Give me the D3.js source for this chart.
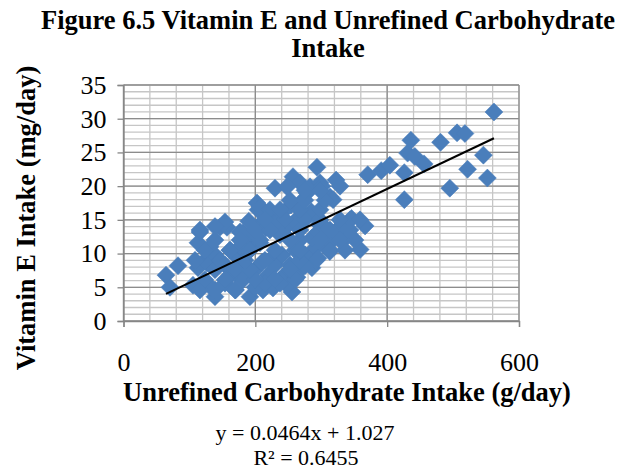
<!DOCTYPE html>
<html>
<head>
<meta charset="utf-8">
<script src="https://cdn.jsdelivr.net/npm/d3@7"></script>
<style>
  body { margin: 0; background: #fff; }
  svg text { font-family: "Liberation Serif", "Times New Roman", serif; fill: #000; }
</style>
</head>
<body>
<svg id="chart"></svg>
<script>
// unrefined carbohydrate intake (g/day)
const carbIntake = [
	64.5, 70.5, 82.7, 105.4, 113, 113, 116, 131.2, 126.7, 138.8, 146.4, 157, 132.7, 154, 169.2, 123.6,
	181.3, 187.3, 202.5, 204, 222.2, 254.1, 263.2, 202.5, 191.8, 181.3, 211.6, 226.8, 241.9, 267.7, 278.4, 287.5, 302.6, 313.3, 196.4, 237.4, 207.1, 226.8,
	293.5, 257.1, 267.7, 229.8, 248, 282.9, 298.1, 278.4, 267.7, 313.3, 207.1, 222.2, 204, 245, 298.1, 154, 138.8, 116, 176.7,
	301, 322.5, 328.5, 318, 346, 366.5, 339, 359, 313, 303, 298, 370.5, 391, 404, 426, 426, 431, 436, 442, 456, 481, 506, 518, 495, 522, 546, 552, 562,
	138.8, 154, 161.6, 173.7, 184.3, 191.8, 199.5, 210.1, 219.2, 229.8, 240.4, 252.6, 260.2, 267.7, 275.3, 285.9, 295, 305.7, 320.8, 331.5, 343.6,
	255.6, 248, 237.4, 263.2, 285.9, 292, 199.5, 170, 160, 176.7, 216, 230, 260, 275, 285, 240, 190,
	116, 138.8, 169.2, 214.6, 237.4, 123.6, 154, 199.5, 229.8, 260.2,
	138.8, 169.2, 191.8, 252.6, 275.3, 108.5, 146.4, 184.3, 214.6, 267.7, 295,
	123.6, 161.6, 191.8, 229.8, 267.7, 313.3, 336, 138.8, 176.7, 207.1, 252.6, 298.1, 328.4, 351.2,
	199.5, 222.2, 267.7, 313.3, 343.6, 214.6, 245, 275.3, 298.1, 328.4, 358.8,
	237.4, 267.7, 298.1, 252.6, 275.3, 305.7, 275.3, 298.1
];
// vitamin E intake (mg/day), same order
const vitaminE = [
	6.8, 5.0, 8.2, 5.3, 7.9, 11.6, 13.2, 11.0, 8.6, 3.6, 13.9, 13.9, 5.0, 5.6, 7.1, 9.0,
	13.1, 11.6, 13.5, 16.5, 16.0, 17.2, 16.9, 17.5, 3.6, 6.1, 4.6, 4.9, 6.6, 7.6, 8.6, 10.5, 11.6, 11.6, 13.1, 12.8, 11.6, 9.5,
	22.8, 21.4, 20.5, 19.7, 19.9, 19.9, 20.5, 19.0, 17.5, 18.4, 16.9, 16.5, 14.0, 13.8, 14.2, 14.7, 14.0, 13.5, 13.2,
	20.0, 20.9, 20.0, 18.0, 15.2, 14.1, 12.5, 10.6, 10.3, 13.0, 14.5, 21.7, 22.3, 23.1, 22.0, 18.0, 24.9, 26.8, 24.4, 23.3, 26.5, 27.9, 27.8, 19.7, 22.5, 24.6, 21.2, 31.0,
	9.8, 8.3, 10.5, 9.3, 8.3, 10.5, 7.6, 8.7, 6.8, 8.3, 9.8, 8.3, 10.5, 12.0, 9.8, 12.3, 13.2, 13.9, 13.2, 14.2, 15.0,
	4.3, 5.3, 6.1, 6.5, 7.9, 9.0, 5.0, 4.6, 6.5, 11.0, 13.8, 14.5, 14.8, 15.5, 16.2, 16.0, 14.8,
	4.6, 4.6, 4.6, 5.6, 5.6, 6.1, 6.1, 6.1, 6.1, 6.1,
	7.6, 7.6, 7.6, 7.6, 8.2, 9.0, 9.0, 9.0, 9.0, 9.0, 9.3,
	10.5, 10.5, 10.5, 10.5, 10.5, 10.5, 10.5, 12.0, 12.0, 12.0, 12.0, 12.0, 12.0, 12.0,
	13.5, 13.5, 13.5, 13.5, 13.5, 15.0, 15.0, 15.0, 15.0, 15.0, 15.0,
	16.5, 16.5, 16.5, 17.9, 17.9, 17.9, 19.4, 19.4
];

const xTicks = [0, 200, 400, 600];
const yTicks = [0, 5, 10, 15, 20, 25, 30, 35];

// linear trendline shown on the chart
const trendSlope = 0.0464;
const trendIntercept = 1.027;
const trendR2 = 0.6455;

const titleLines = ["Figure 6.5 Vitamin E and Unrefined Carbohydrate", "Intake"];
const xTitle = "Unrefined Carbohydrate Intake (g/day)";
const yTitle = "Vitamin E Intake (mg/day)";

var width = 621;
var height = 470;

var svg = d3.select("#chart")
	.attr("width", width)
	.attr("height", height);

var x = d3.scaleLinear().domain([0, 600]).range([123.5, 519]);
var y = d3.scaleLinear().domain([0, 35]).range([321, 85]);

// minor gridlines
var grid = svg.append("g");
grid.selectAll("line.ymin")
	.data(d3.range(0, 36, 1))
	.enter().append("line")
	.attr("x1", x(0)).attr("x2", x(600))
	.attr("y1", d => y(d)).attr("y2", d => y(d))
	.attr("stroke", "#c6c6c6")
	.attr("stroke-width", 1.3);
grid.selectAll("line.xmin")
	.data(d3.range(0, 601, 40))
	.enter().append("line")
	.attr("y1", y(0)).attr("y2", y(35))
	.attr("x1", d => x(d)).attr("x2", d => x(d))
	.attr("stroke", "#c6c6c6")
	.attr("stroke-width", 1.3);

// major gridlines
grid.selectAll("line.ymaj")
	.data(yTicks)
	.enter().append("line")
	.attr("x1", x(0)).attr("x2", x(600))
	.attr("y1", d => y(d)).attr("y2", d => y(d))
	.attr("stroke", "#8c8c8c")
	.attr("stroke-width", 1.3);
grid.selectAll("line.xmaj")
	.data(xTicks)
	.enter().append("line")
	.attr("y1", y(0)).attr("y2", y(35))
	.attr("x1", d => x(d)).attr("x2", d => x(d))
	.attr("stroke", "#8c8c8c")
	.attr("stroke-width", 1.3);

// axes
var xAxis = svg.append("g")
	.attr("transform", "translate(0," + y(0) + ")")
	.call(d3.axisBottom(x).tickValues(xTicks).tickSize(6).tickPadding(26));
var yAxis = svg.append("g")
	.attr("transform", "translate(" + x(0) + ",0)")
	.call(d3.axisLeft(y).tickValues(yTicks).tickSize(6).tickPadding(11));

[xAxis, yAxis].forEach(function(a) {
	a.select(".domain").attr("stroke", "#868686").attr("stroke-width", 1.3);
	a.selectAll(".tick line").attr("stroke", "#868686").attr("stroke-width", 1.3);
	a.selectAll(".tick text")
		.style("font-family", "Liberation Serif")
		.style("font-size", "26px")
		.attr("fill", "#000");
});

// points
var diamond = d3.symbol().type(d3.symbolSquare).size(162);
svg.append("g")
	.selectAll("path")
	.data(carbIntake.map((c, i) => [c, vitaminE[i]]))
	.enter().append("path")
	.attr("d", diamond)
	.attr("transform", d => "translate(" + x(d[0]) + "," + y(d[1]) + ") rotate(45)")
	.attr("fill", "#4a7ebb")
	.attr("stroke", "#4a7ebb")
	.attr("stroke-width", 0.5);

// trendline over the data range
var xMin = d3.min(carbIntake), xMax = d3.max(carbIntake);
svg.append("line")
	.attr("x1", x(xMin)).attr("y1", y(trendSlope * xMin + trendIntercept))
	.attr("x2", x(xMax)).attr("y2", y(trendSlope * xMax + trendIntercept))
	.attr("stroke", "#000")
	.attr("stroke-width", 2);

// title
svg.append("g").selectAll("text")
	.data(titleLines)
	.enter().append("text")
	.attr("x", 328)
	.attr("y", (d, i) => 29 + i * 28)
	.attr("text-anchor", "middle")
	.style("font-size", "26.5px")
	.style("font-weight", "bold")
	.text(d => d);

// axis titles
svg.append("text")
	.attr("x", 347).attr("y", 401)
	.attr("text-anchor", "middle")
	.style("font-size", "26.5px")
	.style("font-weight", "bold")
	.text(xTitle);

svg.append("text")
	.attr("transform", "translate(35,218) rotate(-90)")
	.attr("text-anchor", "middle")
	.style("font-size", "26.5px")
	.style("font-weight", "bold")
	.text(yTitle);

// trendline label
svg.append("text")
	.attr("x", 305).attr("y", 440)
	.attr("text-anchor", "middle")
	.style("font-size", "22px")
	.text("y = " + trendSlope + "x + " + trendIntercept);
svg.append("text")
	.attr("x", 306).attr("y", 465)
	.attr("text-anchor", "middle")
	.style("font-size", "22px")
	.text("R² = " + trendR2);
</script>
</body>
</html>
